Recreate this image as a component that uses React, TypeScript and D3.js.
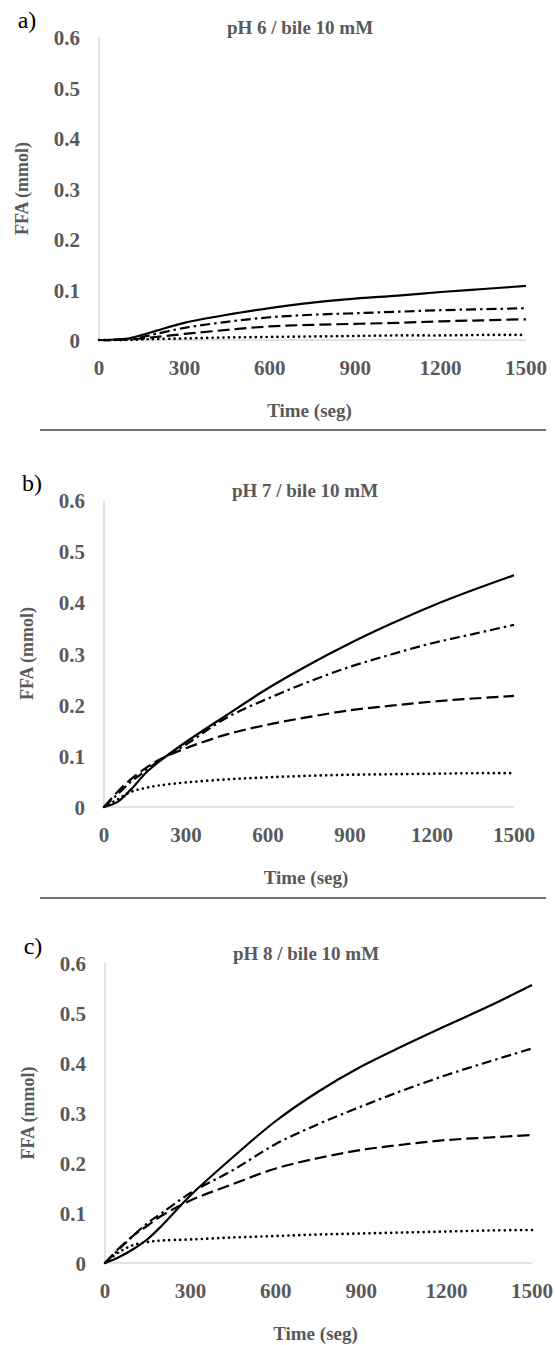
import React from "react";
import * as d3 from "d3";

// ---- data ----
const TIME = [0, 50, 100, 150, 200, 300, 450, 600, 750, 900, 1050, 1200, 1350, 1500];
const X_TICKS = [0, 300, 600, 900, 1200, 1500];
const Y_TICKS = [0, 0.1, 0.2, 0.3, 0.4, 0.5, 0.6];
const TITLES = ["pH 6 / bile 10 mM", "pH 7 / bile 10 mM", "pH 8 / bile 10 mM"];
const LETTERS = ["a)", "b)", "c)"];
const X_LABEL = "Time (seg)";
const Y_LABEL = "FFA (mmol)";
const SERIES_NAMES = ["solid", "dashdot", "dashed", "dotted"];

// pH 6
const A_SOLID = [0, 0.001, 0.003, 0.010, 0.018, 0.034, 0.050, 0.063, 0.074, 0.082, 0.088, 0.095, 0.101, 0.107];
const A_DASHDOT = [0, 0, 0.002, 0.006, 0.012, 0.024, 0.036, 0.045, 0.050, 0.053, 0.056, 0.059, 0.061, 0.063];
const A_DASHED = [0, 0, 0.001, 0.003, 0.006, 0.012, 0.020, 0.027, 0.030, 0.032, 0.034, 0.037, 0.039, 0.041];
const A_DOTTED = [0, 0, 0, 0.001, 0.002, 0.003, 0.005, 0.006, 0.007, 0.008, 0.009, 0.009, 0.010, 0.010];
// pH 7
const B_SOLID = [0, 0.010, 0.035, 0.065, 0.088, 0.127, 0.180, 0.232, 0.278, 0.320, 0.358, 0.393, 0.424, 0.453];
const B_DASHDOT = [0, 0.025, 0.050, 0.070, 0.090, 0.122, 0.175, 0.212, 0.245, 0.274, 0.298, 0.320, 0.338, 0.356];
const B_DASHED = [0, 0.030, 0.055, 0.075, 0.092, 0.115, 0.142, 0.161, 0.176, 0.189, 0.198, 0.206, 0.212, 0.217];
const B_DOTTED = [0, 0.015, 0.030, 0.037, 0.042, 0.048, 0.054, 0.058, 0.061, 0.063, 0.064, 0.065, 0.066, 0.066];
// pH 8
const C_SOLID = [0, 0.012, 0.028, 0.048, 0.075, 0.135, 0.212, 0.284, 0.343, 0.393, 0.435, 0.475, 0.514, 0.556];
const C_DASHDOT = [0, 0.028, 0.055, 0.080, 0.100, 0.140, 0.186, 0.238, 0.278, 0.313, 0.346, 0.376, 0.403, 0.429];
const C_DASHED = [0, 0.030, 0.055, 0.075, 0.095, 0.125, 0.158, 0.189, 0.210, 0.226, 0.237, 0.246, 0.251, 0.256];
const C_DOTTED = [0, 0.022, 0.036, 0.042, 0.045, 0.047, 0.051, 0.054, 0.057, 0.059, 0.061, 0.063, 0.065, 0.066];

const PANEL_DATA = [
  [A_SOLID, A_DASHDOT, A_DASHED, A_DOTTED],
  [B_SOLID, B_DASHDOT, B_DASHED, B_DOTTED],
  [C_SOLID, C_DASHDOT, C_DASHED, C_DOTTED],
];

// ---- layout / style ----
const W = 555;
const H = 1345;
const PANELS = [
  { x0: 99, x1: 526, yBottom: 340, yTop: 37 },
  { x0: 104, x1: 514, yBottom: 807, yTop: 500 },
  { x0: 105, x1: 532, yBottom: 1263, yTop: 963 },
];
const SEPARATORS = [430, 898];
const STYLE: Record<string, { dash?: string; cap: "butt" | "round"; width: number }> = {
  solid: { cap: "butt", width: 2.2 },
  dashdot: { dash: "10 4 2.5 4", cap: "butt", width: 2.2 },
  dashed: { dash: "12 5", cap: "butt", width: 2.2 },
  dotted: { dash: "0.01 5.4", cap: "round", width: 2.7 },
};
const FONT = "'Liberation Serif', 'Times New Roman', serif";
const GRAY = "#595959";

function Panel({ idx }: { idx: number }) {
  const p = PANELS[idx];
  const x = d3.scaleLinear().domain([0, 1500]).range([p.x0, p.x1]);
  const y = d3.scaleLinear().domain([0, 0.6]).range([p.yBottom, p.yTop]);
  const line = d3
    .line<number>()
    .x((_, i) => x(TIME[i]))
    .y((v) => y(v))
    .curve(d3.curveCatmullRom.alpha(0.5));
  const series = PANEL_DATA[idx];
  const cx = (p.x0 + p.x1) / 2;
  const cy = (p.yTop + p.yBottom) / 2;
  return (
    <g>
      <text x={p.x0 - 72} y={p.yTop - 17} fontFamily={FONT} fontSize={24} fill="#000" textAnchor="middle" dominantBaseline="central">
        {LETTERS[idx]}
      </text>
      <text x={p.x0 + 201} y={p.yTop - 10} fontFamily={FONT} fontSize={19} fontWeight="bold" fill={GRAY} textAnchor="middle" dominantBaseline="central">
        {TITLES[idx]}
      </text>
      <line x1={p.x0} x2={p.x0} y1={y(0.6)} y2={y(0)} stroke="#d9d9d9" strokeWidth={1.5} />
      <line x1={x(0)} x2={x(1500)} y1={y(0)} y2={y(0)} stroke="#d9d9d9" strokeWidth={1.5} />
      {Y_TICKS.map((t) => (
        <text key={"y" + t} x={p.x0 - 19} y={y(t) + 1} fontFamily={FONT} fontSize={21} fontWeight="bold" fill={GRAY} textAnchor="end" dominantBaseline="central">
          {t === 0 ? "0" : d3.format(".1f")(t)}
        </text>
      ))}
      {X_TICKS.map((t) => (
        <text key={"x" + t} x={x(t)} y={p.yBottom + 28} fontFamily={FONT} fontSize={21} fontWeight="bold" fill={GRAY} textAnchor="middle" dominantBaseline="central">
          {t}
        </text>
      ))}
      <text x={cx - 3} y={p.yBottom + 70} fontFamily={FONT} fontSize={19} fontWeight="bold" fill={GRAY} textAnchor="middle" dominantBaseline="central">
        {X_LABEL}
      </text>
      <text
        transform={`translate(${p.x0 - 77},${cy}) rotate(-90)`}
        fontFamily={FONT}
        fontSize={18}
        fontWeight="bold"
        fill={GRAY}
        textAnchor="middle"
        dominantBaseline="central"
      >
        {Y_LABEL}
      </text>
      {series.map((vals, si) => {
        const st = STYLE[SERIES_NAMES[si]];
        return (
          <path
            key={si}
            d={line(vals) || ""}
            fill="none"
            stroke="#000"
            strokeWidth={st.width}
            strokeLinecap={st.cap}
            strokeDasharray={st.dash}
          />
        );
      })}
    </g>
  );
}

export default function App() {
  return (
    <svg width={W} height={H} style={{ position: "absolute", left: 0, top: 0, background: "#fff" }}>
      <rect x={0} y={0} width={W} height={H} fill="#fff" />
      {PANELS.map((_, i) => (
        <Panel key={i} idx={i} />
      ))}
      {SEPARATORS.map((sy) => (
        <line key={sy} x1={40} x2={546} y1={sy} y2={sy} stroke="#404040" strokeWidth={1.5} />
      ))}
    </svg>
  );
}
